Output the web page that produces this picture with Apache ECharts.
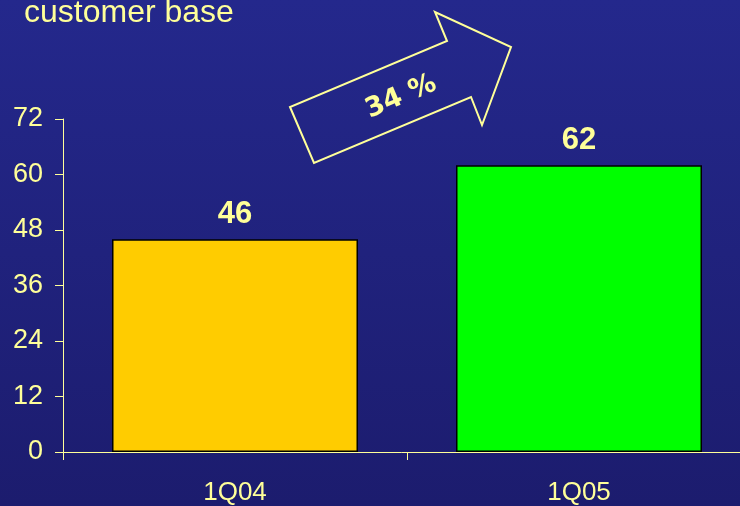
<!DOCTYPE html>
<html>
<head>
<meta charset="utf-8">
<style>
  html, body { margin: 0; padding: 0; }
  #chart { width: 740px; height: 506px; }
</style>
<script src="https://cdn.jsdelivr.net/npm/echarts@6/dist/echarts.min.js"></script>
</head>
<body>
<div id="chart"></div>
<script>
// Customer base, by quarter
const categories = ['1Q04', '1Q05'];
const customers = [46, 62];
const barColors = ['#ffcc00', '#00ff00'];
const growthLabel = '34 %';

const cream = '#ffff99';

const chart = echarts.init(document.getElementById('chart'));

chart.setOption({
  backgroundColor: {
    type: 'linear', x: 0, y: 0, x2: 0, y2: 1,
    colorStops: [
      { offset: 0, color: '#24288c' },
      { offset: 1, color: '#1c1c6e' }
    ]
  },
  animation: false,
  title: {
    text: 'customer base',
    left: 19,
    top: -8,
    textStyle: {
      color: cream,
      fontFamily: 'Liberation Sans, Arial, sans-serif',
      fontWeight: 'normal',
      fontSize: 32
    }
  },
  // the plot runs past the right edge, so the axis continues off-canvas
  grid: { left: 63, width: 688, top: 119, height: 333, containLabel: false, outerBoundsMode: 'none' },
  xAxis: {
    type: 'category',
    data: categories,
    boundaryGap: true,
    axisLine: { lineStyle: { color: cream, width: 1 } },
    axisTick: { show: true, length: 8, alignWithLabel: false, lineStyle: { color: cream } },
    axisLabel: {
      color: cream,
      fontFamily: 'Liberation Sans, Arial, sans-serif',
      fontSize: 26,
      margin: 28
    },
    splitLine: { show: false }
  },
  yAxis: {
    type: 'value',
    min: 0,
    max: 72,
    interval: 12,
    axisLine: { show: true, lineStyle: { color: cream, width: 1 } },
    axisTick: { show: true, length: 8, lineStyle: { color: cream } },
    axisLabel: {
      color: cream,
      fontFamily: 'Liberation Sans, Arial, sans-serif',
      fontSize: 27,
      margin: 20
    },
    splitLine: { show: false }
  },
  series: [{
    type: 'bar',
    barWidth: 246,
    data: customers.map((v, i) => ({
      value: v,
      itemStyle: { color: barColors[i], borderColor: '#000000', borderWidth: 1.5 }
    })),
    label: {
      show: true,
      position: 'top',
      distance: 9,
      color: cream,
      fontFamily: 'Liberation Sans, Arial, sans-serif',
      fontWeight: 'bold',
      fontSize: 31
    }
  }],
  graphic: [
    {
      type: 'polygon',
      shape: {
        points: [
          [290, 107], [314, 163], [471, 97], [482, 125],
          [511, 47], [435, 12], [447, 41]
        ]
      },
      style: { fill: 'none', stroke: cream, lineWidth: 2 }
    },
    {
      type: 'text',
      x: 401,
      y: 97,
      rotation: 23 * Math.PI / 180,
      style: {
        text: growthLabel,
        fill: cream,
        font: 'bold 27px "DejaVu Sans", Verdana, sans-serif',
        align: 'center',
        verticalAlign: 'middle'
      }
    }
  ]
});
</script>
</body>
</html>
